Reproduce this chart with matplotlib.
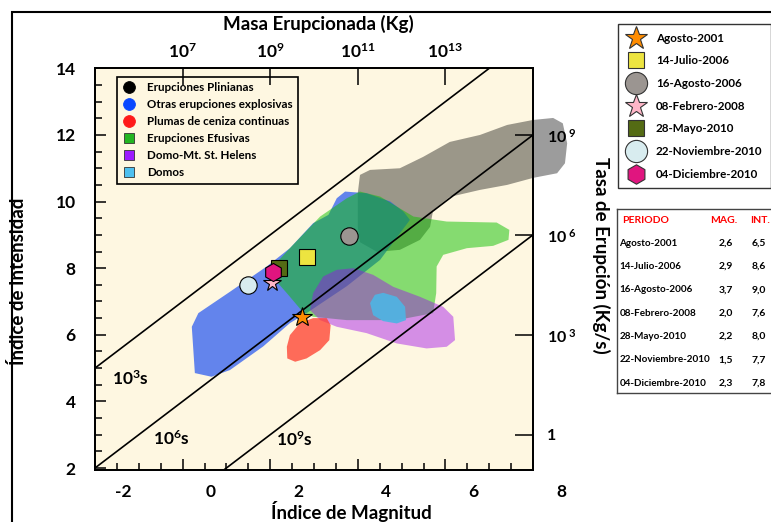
import matplotlib
matplotlib.use('Agg')
import matplotlib.pyplot as plt
from matplotlib.lines import Line2D
from matplotlib.patches import Polygon, Rectangle
from matplotlib.transforms import ScaledTranslation
import numpy as np

plt.rcParams['font.family'] = ['Lato', 'DejaVu Sans']
plt.rcParams['font.weight'] = 'bold'
plt.rcParams['axes.labelweight'] = 'bold'
plt.rcParams['axes.unicode_minus'] = False
plt.rcParams['mathtext.fontset'] = 'custom'
plt.rcParams['mathtext.rm'] = 'Lato:bold'
plt.rcParams['mathtext.bf'] = 'Lato:bold'
plt.rcParams['mathtext.it'] = 'Lato:bold'
plt.rcParams['mathtext.default'] = 'rm'

# --- Campos de erupciones (Indice de Magnitud, Indice de Intensidad) ---
zona_pliniana = [(4.05, 10.80), (4.28, 10.95), (4.96, 11.00), (5.49, 11.34), (6.10, 11.79),
                 (6.79, 12.00), (7.41, 12.30), (8.00, 12.45), (8.46, 12.51), (8.68, 12.35),
                 (8.78, 11.75), (8.73, 11.15), (8.55, 10.85), (8.00, 10.71), (7.41, 10.50),
                 (6.79, 10.35), (6.10, 10.14), (5.72, 9.74), (5.65, 9.24), (5.42, 8.85),
                 (4.96, 8.55), (4.44, 8.49), (4.05, 8.78), (4.00, 9.24), (4.00, 10.26)]
zona_explosiva = [(0.28, 4.85), (0.21, 6.24), (0.36, 6.65), (1.08, 7.29), (1.92, 8.05),
                  (2.45, 8.60), (2.98, 9.35), (3.33, 9.60), (3.52, 10.10), (3.71, 10.30),
                  (4.20, 10.25), (4.74, 10.00), (5.04, 9.70), (5.19, 9.45), (4.51, 8.25),
                  (3.75, 7.46), (2.83, 6.65), (2.45, 6.35), (1.84, 5.65), (1.08, 4.94),
                  (0.66, 4.74)]
zona_efusiva = [(2.03, 8.00), (2.45, 8.60), (3.14, 9.55), (3.75, 10.10), (4.05, 10.30),
                (4.51, 10.15), (5.27, 9.55), (6.03, 9.40), (7.17, 9.37), (7.46, 9.15),
                (7.44, 8.85), (7.09, 8.67), (6.49, 8.60), (5.95, 8.40), (5.80, 8.05),
                (5.79, 7.25), (5.72, 6.65), (4.89, 6.44), (3.75, 6.44), (2.98, 6.54),
                (2.76, 6.66), (2.38, 7.25), (2.11, 7.65)]
zona_helens = [(2.91, 6.74), (2.98, 7.25), (3.21, 7.75), (3.52, 7.95), (3.90, 8.00),
               (4.35, 7.80), (4.81, 7.44), (5.42, 7.14), (5.95, 6.84), (6.18, 6.54),
               (6.22, 5.84), (6.03, 5.64), (5.57, 5.59), (4.89, 5.74), (4.20, 6.05),
               (3.52, 6.24), (3.14, 6.44)]
zona_domos = [(4.28, 6.95), (4.39, 7.20), (4.58, 7.26), (4.89, 7.14), (5.08, 6.84),
              (5.10, 6.44), (4.89, 6.34), (4.58, 6.41), (4.35, 6.59)]
zona_plumas = [(2.38, 5.64), (2.45, 5.99), (2.68, 6.35), (2.98, 6.50), (3.29, 6.50),
               (3.38, 6.29), (3.35, 5.84), (3.14, 5.54), (2.83, 5.29), (2.57, 5.19),
               (2.39, 5.29)]

# --- Lineas de duracion (log10 s) ---
duraciones = [3, 6, 9]

# --- Eventos ---
periodos = ['Agosto-2001', '14-Julio-2006', '16-Agosto-2006', '08-Febrero-2008',
            '28-Mayo-2010', '22-Noviembre-2010', '04-Diciembre-2010']
mag_tabla = ['2,6', '2,9', '3,7', '2,0', '2,2', '1,5', '2,3']
int_tabla = ['6,5', '8,6', '9,0', '7,6', '8,0', '7,7', '7,8']
mag_graf = [2.72, 2.85, 3.81, 2.03, 2.21, 1.50, 2.06]
int_graf = [6.53, 8.35, 8.97, 7.56, 8.00, 7.50, 7.89]
marcadores = ['*', 's', 'o', '*', 's', 'o', 'h']
colores_ev = ['#ff8c00', '#ede440', '#9b9591', '#ffb6c8', '#546b14', '#d8ecef', '#e0157f']
tam_graf = [15, 11.5, 12.5, 13, 11.5, 12.5, 13]
tam_ley = [17, 11, 16, 17, 11, 16, 14]

# --- Ejes secundarios ---
masa_exp = [7, 9, 11, 13]
tasa_exp = [0, 3, 6, 9]

fondo = '#fef7e1'
fig = plt.figure(figsize=(7.71, 5.22), dpi=100)
ax = fig.add_axes([95 / 771, 1 - 470 / 522, 438 / 771, 402 / 522])
ax.set_facecolor(fondo)
ax.set_xlim(-2, 8)
ax.set_ylim(1.94, 14.01)

# Campos (orden de dibujo como en la figura)
campos = [
    (zona_pliniana, '#000000', 0.39, False),
    (zona_explosiva, '#2153f1', 0.70, True),
    (zona_efusiva, '#0ec100', 0.50, True),
    (zona_helens, '#9f09ec', 0.44, True),
    (zona_domos, '#4fb4e4', 0.92, True),
    (zona_plumas, '#ff3c2c', 0.75, True),
]
for k, (pts, col, alfa, clip) in enumerate(campos):
    ax.add_patch(Polygon(pts, closed=True, fc=col, ec='none', alpha=alfa,
                         zorder=1 + 0.1 * k, clip_on=clip))

# Lineas de duracion
xs = np.array([-2.0, 8.0])
for d in duraciones:
    ax.plot(xs, xs + 10 - d, color='k', lw=1.2, zorder=3)
ax.text(-1.62, 4.5, r'$10^{3}$s', fontsize=12.5, zorder=4)
ax.text(-0.67, 2.7, r'$10^{6}$s', fontsize=12.5, zorder=4)
ax.text(2.13, 2.65, r'$10^{9}$s', fontsize=12.5, zorder=4)

# Eventos
for m, i, mk, c, s in zip(mag_graf, int_graf, marcadores, colores_ev, tam_graf):
    ax.plot(m, i, marker=mk, ms=s, mfc=c, mec='k', mew=0.8, ls='none', zorder=5)

# Leyenda interna
tipos = ['Erupciones Plinianas', 'Otras erupciones explosivas', 'Plumas de ceniza continuas',
         'Erupciones Efusivas', 'Domo-Mt. St. Helens', 'Domos']
tipos_col = ['#000000', '#0a48ff', '#ff1a1a', '#22b522', '#9c1aff', '#4ec0f0']
tipos_mk = ['o', 'o', 'o', 's', 's', 's']
h_int = [Line2D([], [], ls='none', marker=mk, ms=8.5 if mk == 'o' else 7, mfc=c,
                mec=c if mk == 'o' else '#333333', mew=0.6)
         for mk, c in zip(tipos_mk, tipos_col)]
ley = ax.legend(h_int, tipos, loc='upper left', bbox_to_anchor=(0.05, 0.978),
                borderaxespad=0, fontsize=8.4, labelspacing=0.52, handlelength=1.2,
                handletextpad=0.9, borderpad=0.45, fancybox=False, framealpha=1,
                facecolor=fondo, edgecolor='k')
ley.get_frame().set_linewidth(1.2)
ley.set_zorder(6)

# Ejes
for sp in ax.spines.values():
    sp.set_linewidth(1.2)
ax.set_xticks(range(-2, 9, 2))
ax.set_xticks(np.arange(-2, 8.01, 0.5), minor=True)
ax.set_yticks(range(2, 15, 2))
ax.set_yticks(np.arange(2, 14.01, 0.5), minor=True)
ax.tick_params(axis='both', which='both', direction='in', width=1.1)
ax.tick_params(axis='x', which='major', length=8, labelsize=12.5, pad=10)
ax.tick_params(axis='x', which='minor', length=5)
ax.tick_params(axis='y', which='major', length=8, labelsize=12.5, pad=14)
ax.tick_params(axis='y', which='minor', length=5)
ax.set_xlabel('Índice de Magnitud', fontsize=13.5)
ax.xaxis.set_label_coords(0.585, -0.078)
ax.set_ylabel('Índice de Intensidad', fontsize=13.5)
ax.yaxis.set_label_coords(-0.155, 0.47)

axt = ax.twiny()
axt.set_xlim(ax.get_xlim())
axt.set_xticks([e - 7 for e in masa_exp])
axt.set_xticklabels([r'$10^{%d}$' % e for e in masa_exp])
axt.tick_params(axis='x', direction='in', length=12, width=1.1, labelsize=12.5, pad=5)
axt.set_xlabel('Masa Erupcionada (Kg)', fontsize=13.5)
axt.xaxis.set_label_coords(0.509, 1.095)

axr = ax.twinx()
axr.set_ylim(ax.get_ylim())
axr.set_yticks([e + 3 for e in tasa_exp])
axr.set_yticklabels(['1' if e == 0 else r'$10^{\ %d}$' % e for e in tasa_exp])
axr.tick_params(axis='y', direction='in', length=13, width=1.1, labelsize=11.5, pad=10)
axr.set_ylabel('Tasa de Erupción (Kg/s)', fontsize=13.5, rotation=270)
axr.yaxis.set_label_coords(1.175, 0.535)
for a in (axt, axr):
    for sp in a.spines.values():
        sp.set_linewidth(1.2)

# Leyenda de eventos
h_ev = [Line2D([], [], ls='none', marker=mk, ms=s, mfc=c, mec='#333333', mew=0.8)
        for mk, c, s in zip(marcadores, colores_ev, tam_ley)]
ley2 = fig.legend(h_ev, periodos, loc='upper left', bbox_to_anchor=(618 / 771, 1 - 24 / 522),
                  borderaxespad=0, fontsize=8.4, labelspacing=1.0, handlelength=1.6,
                  handletextpad=0.9, borderpad=0.75, fancybox=False, framealpha=1,
                  facecolor='white', edgecolor='#333333')
ley2.get_frame().set_linewidth(1.0)

# Tabla de valores
axtab = fig.add_axes([617 / 771, 1 - 393 / 522, 200 / 771, 184 / 522])
axtab.set_xticks([])
axtab.set_yticks([])
axtab.set_xlim(0, 1)
axtab.set_ylim(0, 1)
for sp in axtab.spines.values():
    sp.set_linewidth(1.0)
    sp.set_color('#444444')
axtab.text(0.025, 0.94, 'PERIODO', color='red', fontsize=7.5, va='center')
axtab.text(0.535, 0.94, 'MAG.', color='red', fontsize=7.5, va='center', ha='center')
axtab.text(0.715, 0.94, 'INT.', color='red', fontsize=7.5, va='center', ha='center')
for k, (p, mg, it) in enumerate(zip(periodos, mag_tabla, int_tabla)):
    yy = 0.815 - k * 0.127
    axtab.text(0.012, yy, p, fontsize=7.1, va='center')
    axtab.text(0.545, yy, mg, fontsize=7.5, va='center', ha='center')
    axtab.text(0.71, yy, it, fontsize=7.5, va='center', ha='center')

# Marco exterior
fig.patches.append(Rectangle((12 / 771, -0.1), 1.2, 1.1 - 12 / 522, transform=fig.transFigure,
                             fill=False, lw=1.5, ec='k'))

# Etiquetas inferiores desplazadas como en la figura original
desplaza = ScaledTranslation(0.28, 0, fig.dpi_scale_trans)
for lbl in ax.get_xticklabels():
    lbl.set_transform(lbl.get_transform() + desplaza)

fig.savefig('out.png', dpi=100)
